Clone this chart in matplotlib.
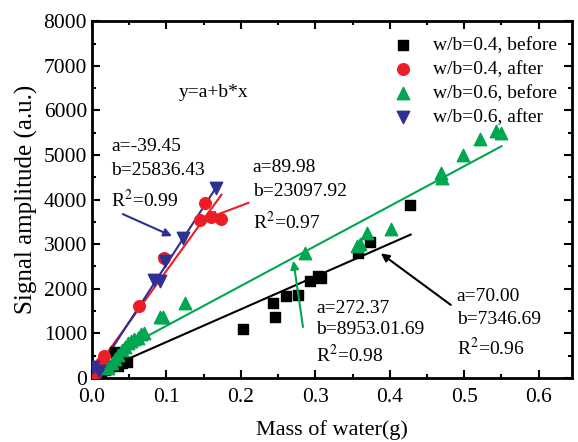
import matplotlib.pyplot as plt
import numpy as np

plt.rcParams['font.family'] = ['Liberation Serif', 'DejaVu Serif']
plt.rcParams['mathtext.fontset'] = 'stix'

# w/b=0.4, before
x_b04 = [0.003, 0.008, 0.012, 0.018, 0.022, 0.026, 0.031, 0.035, 0.040, 0.047,
         0.203, 0.243, 0.246, 0.261, 0.277, 0.293, 0.303, 0.307, 0.358, 0.374, 0.427]
y_b04 = [40, 80, 120, 180, 220, 260, 590, 275, 330, 360,
         1100, 1690, 1375, 1845, 1860, 2180, 2290, 2240, 2800, 3050, 3880]
# w/b=0.4, after
x_a04 = [0.002, 0.006, 0.012, 0.016, 0.063, 0.097, 0.145, 0.152, 0.160, 0.173]
y_a04 = [70, 120, 330, 490, 1615, 2680, 3540, 3920, 3600, 3560]
# w/b=0.6, before
x_b06 = [0.022, 0.027, 0.031, 0.035, 0.040, 0.044, 0.048, 0.052, 0.057, 0.062,
         0.066, 0.070, 0.092, 0.096, 0.125, 0.286, 0.356, 0.360, 0.370, 0.402,
         0.469, 0.470, 0.499, 0.521, 0.542, 0.550]
y_b06 = [230, 330, 430, 520, 620, 700, 780, 820, 880, 900,
         980, 1010, 1360, 1375, 1675, 2810, 2950, 3000, 3240, 3330,
         4590, 4480, 5000, 5350, 5540, 5500]
# w/b=0.6, after
x_a06 = [0.002, 0.010, 0.084, 0.091, 0.098, 0.123, 0.167]
y_a06 = [250, 150, 2200, 2175, 2620, 3130, 4250]

# fits y = a + b*x
fit_b04 = (70.00, 7346.69, 0.022, 0.428)
fit_a04 = (89.98, 23097.92, 0.0, 0.174)
fit_b06 = (272.37, 8953.01, 0.020, 0.550)
fit_a06 = (-39.45, 25836.43, 0.0, 0.165)

c_black = 'black'
c_red = '#ee1c25'
c_green = '#00a650'
c_blue = '#2e3192'

fig = plt.figure(figsize=(5.78, 4.42), dpi=100)
ax = fig.add_axes([0.159, 0.145, 0.831, 0.807])

ax.scatter(x_b04, y_b04, marker='s', s=55, color=c_black, label='w/b=0.4, before', zorder=3)
ax.scatter(x_a04, y_a04, marker='o', s=70, color=c_red, label='w/b=0.4, after', zorder=3)
ax.scatter(x_b06, y_b06, marker='^', s=80, color=c_green, label='w/b=0.6, before', zorder=3)
ax.scatter(x_a06, y_a06, marker='v', s=80, color=c_blue, label='w/b=0.6, after', zorder=3)

for (a, b, x0, x1), c in [(fit_b04, c_black), (fit_a04, c_red), (fit_b06, c_green), (fit_a06, c_blue)]:
    xx = np.array([x0, x1])
    ax.plot(xx, a + b * xx, color=c, lw=1.5, zorder=2)

ax.set_xlim(0, 0.645)
ax.set_ylim(0, 8000)
ax.set_xticks(np.arange(0, 0.61, 0.1))
ax.set_xticks(np.arange(0, 0.65, 0.05), minor=True)
ax.set_yticks(np.arange(0, 8001, 1000))
ax.set_yticks(np.arange(0, 8001, 500), minor=True)
ax.set_xticklabels(['0.0', '0.1', '0.2', '0.3', '0.4', '0.5', '0.6'])
ax.tick_params(which='both', direction='in', top=True, right=True, labelsize=15.5, width=1.5)
ax.tick_params(which='major', length=6)
ax.tick_params(which='minor', length=3)
ax.tick_params(axis='x', pad=7)
for s in ax.spines.values():
    s.set_linewidth(2)

ax.set_xlabel('Mass of water(g)', fontsize=16, labelpad=10)
ax.set_ylabel('Signal amplitude (a.u.)', fontsize=18, labelpad=4)

leg = ax.legend(loc='upper right', frameon=False, fontsize=14, handletextpad=0.5,
                labelspacing=0.32, borderaxespad=0.4, scatterpoints=1)

fs = 14
ax.text(0.117, 6410, 'y=a+b*x', fontsize=fs, va='center')
ax.text(0.0255, 5180, 'a=-39.45', fontsize=fs, va='center')
ax.text(0.0255, 4660, 'b=25836.43', fontsize=fs, va='center')
ax.text(0.0255, 4000, 'R$^2$=0.99', fontsize=fs, va='center')

ax.text(0.216, 4710, 'a=89.98', fontsize=fs, va='center')
ax.text(0.216, 4190, 'b=23097.92', fontsize=fs, va='center')
ax.text(0.216, 3500, 'R$^2$=0.97', fontsize=fs, va='center')

ax.text(0.301, 1560, 'a=272.37', fontsize=fs, va='center')
ax.text(0.301, 1080, 'b=8953.01.69', fontsize=fs, va='center')
ax.text(0.301, 520, 'R$^2$=0.98', fontsize=fs, va='center')

ax.text(0.49, 1820, 'a=70.00', fontsize=fs, va='center')
ax.text(0.49, 1300, 'b=7346.69', fontsize=fs, va='center')
ax.text(0.49, 680, 'R$^2$=0.96', fontsize=fs, va='center')

arrow = dict(arrowstyle='-|>', lw=1.5, mutation_scale=12)
ax.annotate('', xy=(0.111, 3155), xytext=(0.038, 3700), arrowprops=dict(arrow, color=c_blue))
ax.annotate('', xy=(0.152, 3560), xytext=(0.214, 3950), arrowprops=dict(arrow, color=c_red))
ax.annotate('', xy=(0.270, 2690), xytext=(0.284, 1080), arrowprops=dict(arrow, color=c_green))
ax.annotate('', xy=(0.385, 2830), xytext=(0.485, 1600), arrowprops=dict(arrow, color=c_black))

fig.savefig('out.png', dpi=100)
